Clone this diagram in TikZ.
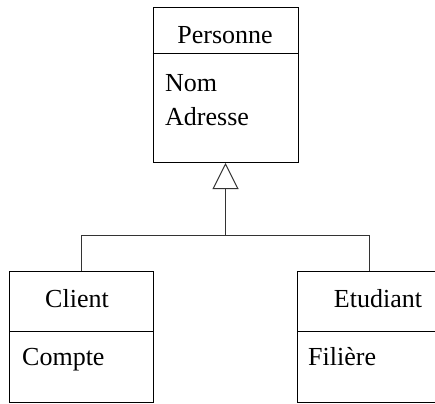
\documentclass[tikz,border=0pt]{standalone}
\usepackage{fontspec}
\setmainfont{Liberation Serif}
\usetikzlibrary{arrows.meta}
\begin{document}
\begin{tikzpicture}[x=1pt,y=-1pt,
  classbox/.style={draw=black, line width=1pt, rectangle, inner sep=0pt, anchor=north west},
  label/.style={inner sep=0pt, font=\fontsize{26}{30}\selectfont},
  link/.style={draw=black!80, line width=1pt}]
\useasboundingbox (0,0) rectangle (435,403);

% class boxes
\node[classbox, minimum width=145pt, minimum height=155pt] (pers) at (152.5,7) {};
\node[classbox, minimum width=144pt, minimum height=130.5pt] (client) at (9,271) {};
\node[classbox, minimum width=144pt, minimum height=130.5pt] (etud) at (297,271) {};

% compartment dividers
\draw[line width=1pt] (pers.west |- 0,54) -- (pers.east |- 0,54);
\draw[line width=1pt] (client.west |- 0,331) -- (client.east |- 0,331);
\draw[line width=1pt] (etud.west |- 0,331) -- (etud.east |- 0,331);

% class names and attributes
\node[label, anchor=base] (pname) at (225,44) {Personne};
\node[label, anchor=base west] (pnom) at (165,92) {Nom};
\node[label, anchor=base west] (padr) at (165,126) {Adresse};
\node[label, anchor=base] (cname) at (77,307) {Client};
\node[label, anchor=base west] (ccpt) at (22,365) {Compte};
\node[label, anchor=base] (ename) at (378,307) {Etudiant};
\node[label, anchor=base west] (efil) at (308,365) {Filière};

% generalization
\coordinate (junc) at (pers.south |- 0,235);
\draw[link] (client.north) -- (client.north |- junc) -- (etud.north |- junc) -- (etud.north);
\draw[link, -{Triangle[open, length=26pt, width=26pt, fill=white]}] (junc) -- (pers.south);
\end{tikzpicture}
\end{document}
